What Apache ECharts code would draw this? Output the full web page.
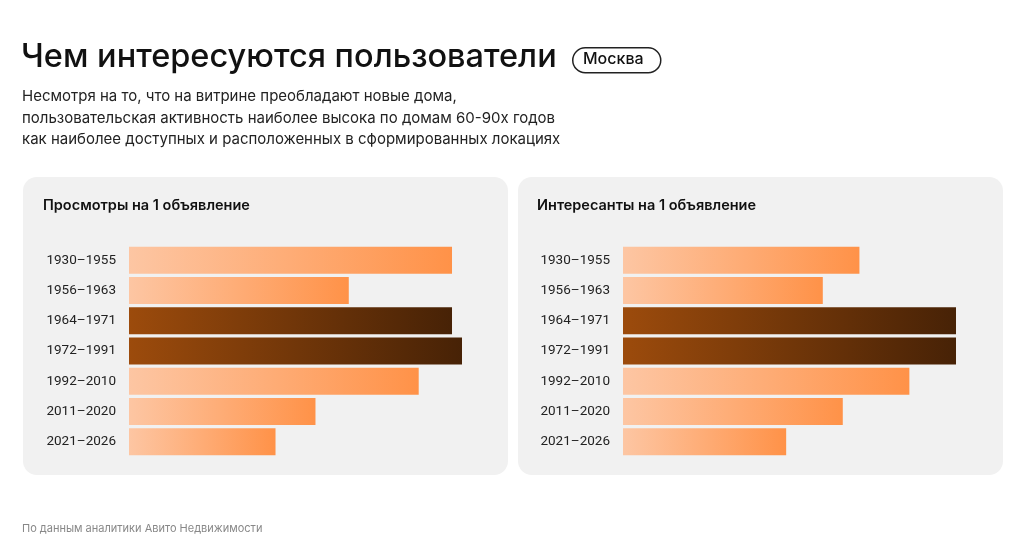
<!DOCTYPE html>
<html>
<head>
<meta charset="utf-8">
<script src="https://cdn.jsdelivr.net/npm/echarts@6/dist/echarts.min.js"></script>
<style>
  html, body { margin: 0; padding: 0; background: #fff; }
  #chart { width: 1024px; height: 547px; }
</style>
</head>
<body>
<div id="chart"></div>
<script>
// periods of construction
var periods = ['1930–1955', '1956–1963', '1964–1971', '1972–1991', '1992–2010', '2011–2020', '2021–2026'];
// relative values, % of maximum
var views = [97, 66, 97, 100, 87, 56, 44];
var interested = [71, 60, 100, 100, 86, 66, 49];
// periods that are highlighted in dark
var highlight = ['1964–1971', '1972–1991'];

var titleText = 'Чем интересуются пользователи';
var cityText = 'Москва';
var subText = 'Несмотря на то, что на витрине преобладают новые дома,\nпользовательская активность наиболее высока по домам 60-90х годов\nкак наиболее доступных и расположенных в сформированных локациях';
var leftTitle = 'Просмотры на 1 объявление';
var rightTitle = 'Интересанты на 1 объявление';
var sourceText = 'По данным аналитики Авито Недвижимости';

var FONT = 'Inter, "Noto Sans", sans-serif';

var lightGrad = new echarts.graphic.LinearGradient(0, 0, 1, 0, [
  { offset: 0, color: '#fdc6a3' },
  { offset: 1, color: '#ff9248' }
]);
var darkGrad = new echarts.graphic.LinearGradient(0, 0, 1, 0, [
  { offset: 0, color: '#9c4b0c' },
  { offset: 1, color: '#472206' }
]);

function barData(vals) {
  return vals.map(function (v, i) {
    var dark = highlight.indexOf(periods[i]) >= 0;
    return { value: v, itemStyle: { color: dark ? darkGrad : lightGrad } };
  });
}

function yAx(idx) {
  return {
    type: 'category', gridIndex: idx, data: periods, inverse: true,
    axisLine: { show: false }, axisTick: { show: false },
    axisLabel: { color: '#222', fontSize: 13.5, fontFamily: 'Roboto, sans-serif', margin: 13 }
  };
}
function xAx(idx) {
  return { type: 'value', gridIndex: idx, min: 0, max: 100, show: false, splitLine: { show: false } };
}

var myChart = echarts.init(document.getElementById('chart'));
var option = {
  backgroundColor: '#fff',
  animation: false,
  graphic: [
    { type: 'rect', left: 23, top: 177, z: -10, shape: { width: 485, height: 298, r: 14 }, style: { fill: '#f1f1f1' } },
    { type: 'rect', left: 518, top: 177, z: -10, shape: { width: 485, height: 298, r: 14 }, style: { fill: '#f1f1f1' } },
    { type: 'text', left: 21, top: 41, style: { text: titleText, font: '500 32.5px ' + FONT, fill: '#111' } },
    { type: 'rect', left: 572, top: 47, shape: { width: 88, height: 25, r: 12.5 }, style: { fill: '#fff', stroke: '#222', lineWidth: 1.5 } },
    { type: 'text', left: 583, top: 51, style: { text: cityText, font: '500 16px ' + FONT, fill: '#111' } },
    { type: 'text', left: 22, top: 86, style: { text: subText, font: '400 15px ' + FONT, fill: '#222', lineHeight: 21.5 } },
    { type: 'text', left: 43, top: 198, style: { text: leftTitle, font: '600 14.5px ' + FONT, fill: '#111' } },
    { type: 'text', left: 537, top: 198, style: { text: rightTitle, font: '600 14.5px ' + FONT, fill: '#111' } },
    { type: 'text', left: 22, top: 523, style: { text: sourceText, font: '400 11px ' + FONT, fill: '#888' } }
  ],
  grid: [
    { left: 129, top: 245, width: 333, height: 212 },
    { left: 623, top: 245, width: 333, height: 212 }
  ],
  xAxis: [xAx(0), xAx(1)],
  yAxis: [yAx(0), yAx(1)],
  series: [
    { type: 'bar', xAxisIndex: 0, yAxisIndex: 0, barWidth: 27, data: barData(views), silent: true },
    { type: 'bar', xAxisIndex: 1, yAxisIndex: 1, barWidth: 27, data: barData(interested), silent: true }
  ]
};
myChart.setOption(option);
</script>
</body>
</html>
